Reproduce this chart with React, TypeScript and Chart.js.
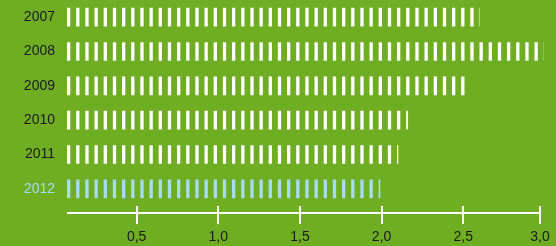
import React, { useEffect, useRef } from "react";
import { Chart, registerables } from "chart.js";

Chart.register(...registerables);

const categories = ["2007", "2008", "2009", "2010", "2011", "2012"];
const values = [2.6, 2.99, 2.53, 2.16, 2.1, 1.99];
const tickValues = [0.5, 1.0, 1.5, 2.0, 2.5, 3.0];
const tickLabels = ["0,5", "1,0", "1,5", "2,0", "2,5", "3,0"];
const axisMin = 0.0735;
const axisMax = 2.97;

const BG = "#6fae22";
const TEXT = "#1a1a1a";
const BLUE = "#a6dcf0";

function makePattern(color: string): CanvasPattern | string {
  const c = document.createElement("canvas");
  c.width = 55;
  c.height = 4;
  const g = c.getContext("2d");
  if (!g) return color;
  g.fillStyle = color;
  for (let i = 0; i < 6; i++) {
    g.fillRect((i * 55) / 6, 0, 3.3, 4);
  }
  const p = g.createPattern(c, "repeat");
  return p || color;
}

export default function App() {
  const ref = useRef<HTMLCanvasElement | null>(null);

  useEffect(() => {
    if (!ref.current) return;
    const white = makePattern("#ffffff");
    const blue = makePattern(BLUE);
    const patterns = [white, blue];

    const patternPlugin = {
      id: "patternAnchor",
      beforeDatasetsDraw(chart: any) {
        const left = chart.chartArea.left;
        for (const p of patterns) {
          if (typeof p !== "string" && (p as any).setTransform) {
            (p as any).setTransform(new DOMMatrix([1, 0, 0, 1, left, 0]));
          }
        }
      },
      afterDatasetsDraw(chart: any) {
        const x = chart.scales.x;
        const ctx = chart.ctx;
        ctx.save();
        ctx.strokeStyle = "#ffffff";
        ctx.lineWidth = 2;
        ctx.beginPath();
        ctx.moveTo(x.left, chart.chartArea.bottom + 7);
        ctx.lineTo(x.right, chart.chartArea.bottom + 7);
        ctx.stroke();
        ctx.restore();
      },
    };

    const chart = new Chart(ref.current, {
      type: "bar",
      data: {
        labels: categories,
        datasets: [
          {
            data: values,
            base: axisMin,
            backgroundColor: values.map((_, i) => (i === values.length - 1 ? blue : white)) as any,
            borderWidth: 0,
            barThickness: 18,
            clip: false as any,
          } as any,
        ],
      },
      plugins: [patternPlugin],
      options: {
        indexAxis: "y",
        animation: false,
        responsive: false,
        maintainAspectRatio: false,
        layout: { padding: { left: 0, right: 16, top: -1, bottom: 0 } },
        plugins: {
          legend: { display: false },
          tooltip: { enabled: false },
        },
        scales: {
          x: {
            type: "linear",
            min: axisMin,
            max: axisMax,
            afterFit(scale: any) {
              scale.height = 40;
              scale.paddingLeft = 0;
              scale.paddingRight = 0;
            },
            afterBuildTicks(scale: any) {
              scale.ticks = tickValues.map((v) => ({ value: Math.min(v, axisMax) }));
            },
            grid: {
              display: true,
              drawOnChartArea: false,
              drawTicks: true,
              tickLength: 18,
              lineWidth: 2,
              color: "#ffffff",
            },
            border: { display: false },
            ticks: {
              padding: 5,
              color: TEXT,
              font: { family: "'Liberation Sans', Arial, sans-serif", size: 14 },
              maxRotation: 0,
              autoSkip: false,
              callback: (_v: any, i: number) => tickLabels[i],
            },
          },
          y: {
            type: "category",
            afterFit(scale: any) {
              scale.width = 67;
              scale.paddingTop = 0;
              scale.paddingBottom = 0;
            },
            grid: { display: false, drawTicks: false },
            border: { display: false },
            ticks: {
              padding: 12,
              color: (ctx: any) => (ctx.index === categories.length - 1 ? BLUE : TEXT),
              font: { family: "'Liberation Sans', Arial, sans-serif", size: 14 },
            },
          },
        },
      },
    });
    return () => chart.destroy();
  }, []);

  return (
    <div
      style={{
        position: "absolute",
        left: 0,
        top: 0,
        width: 556,
        height: 246,
        background: BG,
      }}
    >
      <canvas ref={ref} width={556} height={246} style={{ display: "block" }} />
    </div>
  );
}
